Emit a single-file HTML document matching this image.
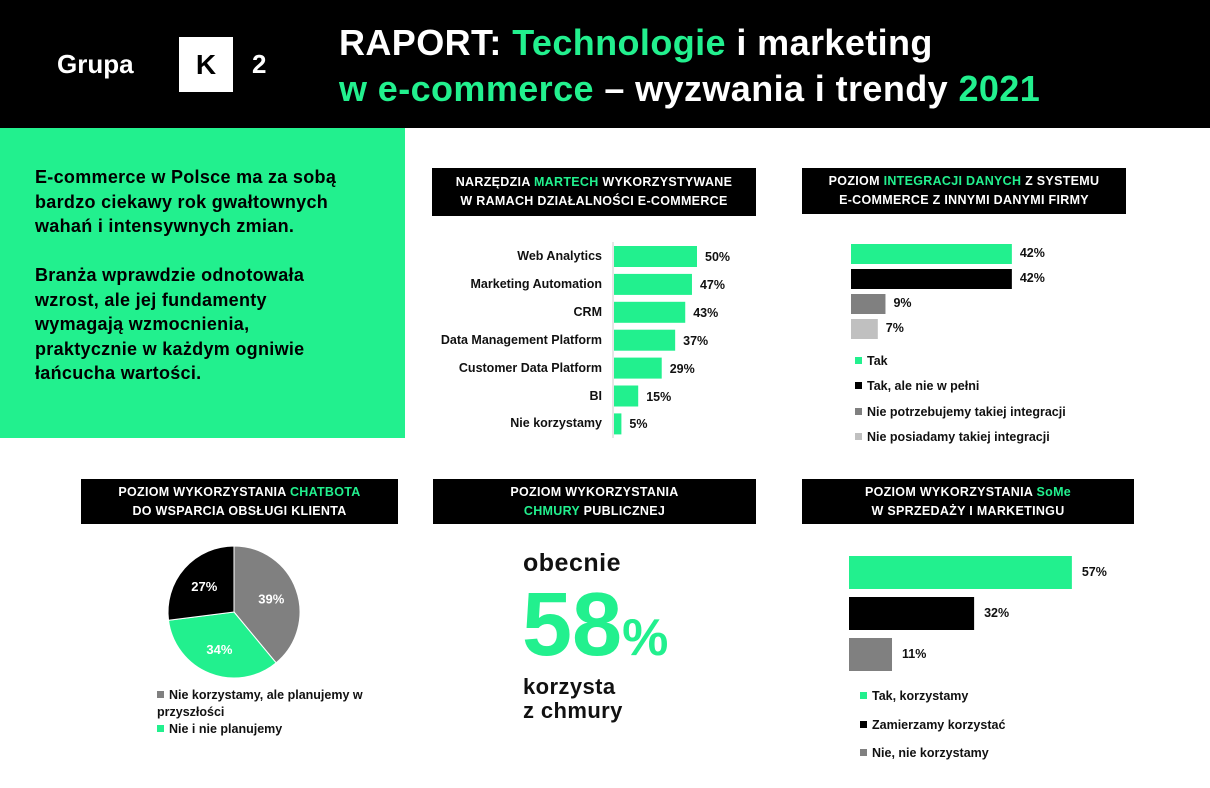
<!DOCTYPE html>
<html><head><meta charset="utf-8">
<style>
body{margin:0;width:1210px;height:788px;background:#fff;font-family:"Liberation Sans",sans-serif;font-weight:bold;position:relative;overflow:hidden;color:#111}
.a{position:absolute}
.g{color:#22f08e}
.hd{position:absolute;background:#000;color:#fff;font-size:12.5px;letter-spacing:0.3px;text-align:center;line-height:19px;display:flex;align-items:center;justify-content:center;flex-direction:column}
.lbl{font-size:12.5px;position:absolute;white-space:nowrap}
.lg{position:absolute;font-size:12.5px;white-space:nowrap}
.lg i{display:inline-block;width:7px;height:7px;margin-right:5px;vertical-align:1px}
</style></head><body>
<div class="a" style="left:0;top:0;width:1210px;height:128px;background:#000"></div>
<div class="a" style="left:57px;top:49px;color:#fff;font-size:26px">Grupa</div>
<div class="a" style="left:179px;top:37px;width:54px;height:55px;background:#fff;color:#000;font-size:28px;text-align:center;line-height:55px">K</div>
<div class="a" style="left:252px;top:49px;color:#fff;font-size:26px">2</div>
<div class="a" style="left:339px;top:20px;color:#fff;font-size:36px;letter-spacing:0.4px;line-height:46px;white-space:nowrap">RAPORT: <span class="g">Technologie</span> i marketing<br><span class="g">w e-commerce</span> – wyzwania i trendy <span class="g">2021</span></div>
<div class="a" style="left:0;top:128px;width:405px;height:310px;background:#22f08e"></div>
<div class="a" style="left:35px;top:165px;font-size:18px;letter-spacing:0.3px;line-height:24.5px;color:#000;white-space:nowrap">E-commerce w Polsce ma za sobą<br>bardzo ciekawy rok gwałtownych<br>wahań i intensywnych zmian.<br><br>Branża wprawdzie odnotowała<br>wzrost, ale jej fundamenty<br>wymagają wzmocnienia,<br>praktycznie w każdym ogniwie<br>łańcucha wartości.</div>

<div class="hd" style="left:432px;top:168px;width:324px;height:48px"><div>NARZĘDZIA <span class="g">MARTECH</span> WYKORZYSTYWANE</div><div>W RAMACH DZIAŁALNOŚCI E-COMMERCE</div></div>
<div class="hd" style="left:802px;top:168px;width:324px;height:46px"><div>POZIOM <span class="g">INTEGRACJI DANYCH</span> Z SYSTEMU</div><div>E-COMMERCE Z INNYMI DANYMI FIRMY</div></div>
<div class="hd" style="left:81px;top:479px;width:317px;height:45px"><div>POZIOM WYKORZYSTANIA <span class="g">CHATBOTA</span></div><div>DO WSPARCIA OBSŁUGI KLIENTA</div></div>
<div class="hd" style="left:433px;top:479px;width:323px;height:45px"><div>POZIOM WYKORZYSTANIA</div><div><span class="g">CHMURY</span> PUBLICZNEJ</div></div>
<div class="hd" style="left:802px;top:479px;width:332px;height:45px"><div>POZIOM WYKORZYSTANIA <span class="g">SoMe</span></div><div>W SPRZEDAŻY I MARKETINGU</div></div>

<div class="a" style="left:523px;top:549px;font-size:25px;letter-spacing:0.5px">obecnie</div>
<div class="a" style="left:522px;top:580px;font-size:90px;color:#22f08e;letter-spacing:0px;line-height:90px">58<span style="font-size:52px">%</span></div>
<div class="a" style="left:523px;top:675px;font-size:22px;letter-spacing:0.4px;line-height:24px">korzysta<br>z chmury</div>

<svg class="a" style="left:0;top:0" width="1210" height="788" id="svg"></svg>
<script>
const martechCats=["Web Analytics","Marketing Automation","CRM","Data Management Platform","Customer Data Platform","BI","Nie korzystamy"];
const martechVals=[50,47,43,37,29,15,5];
const integCats=["Tak","Tak, ale nie w pełni","Nie potrzebujemy takiej integracji","Nie posiadamy takiej integracji"];
const integVals=[42,42,9,7];
const integColors=["#22f08e","#000","#808080","#c0c0c0"];
const chatCats=["Nie korzystamy, ale planujemy w przyszłości","Nie i nie planujemy","Tak"];
const chatVals=[39,34,27];
const chatColors=["#808080","#22f08e","#000"];
const someCats=["Tak, korzystamy","Zamierzamy korzystać","Nie, nie korzystamy"];
const someVals=[57,32,11];
const someColors=["#22f08e","#000","#808080"];

const NS="http://www.w3.org/2000/svg";
const svg=document.getElementById('svg');
function mk(t,at,txt){const e=document.createElementNS(NS,t);for(const k in at)e.setAttribute(k,at[k]);if(txt!==undefined)e.textContent=txt;svg.appendChild(e);return e;}
const root=document.body;
function div(cls,style,html){const d=document.createElement('div');d.className=cls;d.style.cssText=style;d.innerHTML=html;root.appendChild(d);return d;}

// martech
const mx=v=>613+v*1.68, my=i=>246+i*27.9;
let ax=mk('line',{x1:613,y1:242,x2:613,y2:438,stroke:'#ccc','stroke-width':1});

martechCats.forEach((c,i)=>{
 const r=mk('rect',{x:614,y:my(i),width:mx(martechVals[i])-614,height:21,fill:'#22f08e'});
 
 const l=div('lbl',`right:${1210-602}px;top:${my(i)+3}px`,c);
 
 const v=div('lbl',`left:${mx(martechVals[i])+8}px;top:${my(i)+4}px`,martechVals[i]+'%');
 
});

// integration
const ix=v=>851+v*3.83, iy=i=>244+i*25;
integCats.forEach((c,i)=>{
 const r=mk('rect',{x:851,y:iy(i),width:ix(integVals[i])-851,height:20,fill:integColors[i]});
 
 const v=div('lbl',`left:${ix(integVals[i])+8}px;top:${iy(i)+2}px`,integVals[i]+'%');
 
 const l=div('lg',`left:855px;top:${354+i*25.3}px`,`<i style="background:${integColors[i]}"></i>${c}`);
 
});

// pie
const cx=234,cy=612,R=66;let a0=0;const tot=chatVals.reduce((a,b)=>a+b,0);
chatVals.forEach((v,i)=>{
 const a1=a0+v/tot*2*Math.PI;
 const p=(a)=>[cx+R*Math.sin(a),cy-R*Math.cos(a)];
 const [x0,y0]=p(a0),[x1,y1]=p(a1);
 const s=mk('path',{d:`M${cx},${cy}L${x0},${y0}A${R},${R} 0 ${a1-a0>Math.PI?1:0} 1 ${x1},${y1}Z`,fill:chatColors[i],stroke:'#fff','stroke-width':1});
 
 const am=(a0+a1)/2;
 const t=mk('text',{x:cx+R*0.6*Math.sin(am),y:cy-R*0.6*Math.cos(am)+5,'text-anchor':'middle',fill:'#fff','font-size':13,'font-weight':'bold','font-family':'Liberation Sans'},v+'%');
 
 a0=a1;
});
const cl1=div('lg','left:157px;top:687px;width:240px;white-space:normal;line-height:17px',`<i style="background:${chatColors[0]}"></i>${chatCats[0]}`);

const cl2=div('lg','left:157px;top:722px',`<i style="background:${chatColors[1]}"></i>${chatCats[1]}`);


// some
const sx=v=>849+v*3.91, sy=i=>556+i*41;
someCats.forEach((c,i)=>{
 const r=mk('rect',{x:849,y:sy(i),width:sx(someVals[i])-849,height:33,fill:someColors[i]});
 
 const v=div('lbl',`left:${sx(someVals[i])+10}px;top:${sy(i)+9}px`,someVals[i]+'%');
 
 const l=div('lg',`left:860px;top:${689+i*28.5}px`,`<i style="background:${someColors[i]}"></i>${c}`);
 
});
</script>
</body></html>
